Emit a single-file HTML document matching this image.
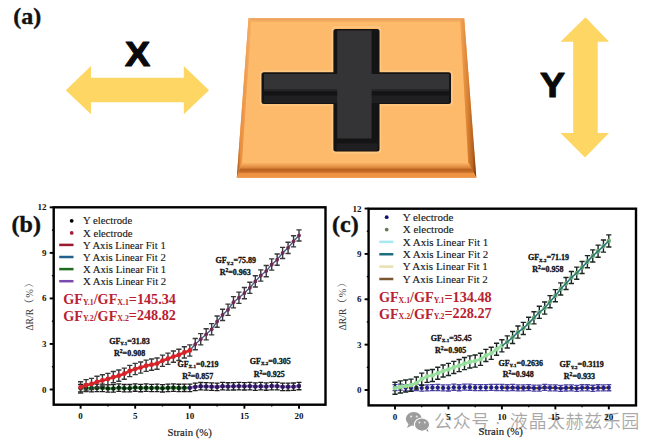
<!DOCTYPE html>
<html><head><meta charset="utf-8"><style>
html,body{margin:0;padding:0;background:#fff;}
body{width:660px;height:448px;overflow:hidden;position:relative;}
svg{position:absolute;left:0;top:0;}
</style></head><body>
<svg width="660" height="448" viewBox="0 0 660 448">
<rect width="660" height="448" fill="#fff"/>
<text x="13.3" y="23.6" font-family="'Liberation Serif','Times New Roman',serif" font-weight="bold" font-size="24" fill="#111" stroke="#111" stroke-width="0.4">(a)</text>
<polygon fill="#FDD663" points="65.8,90.2 91,66 91,77.8 183.8,77.8 183.8,66 209,90.2 183.8,114.2 183.8,102.2 91,102.2 91,114.2"/>
<text transform="translate(125,65.6) scale(1.09,1)" font-family="'Liberation Sans',Arial,sans-serif" font-weight="bold" font-size="34.5" fill="#0a0a0a" stroke="#0a0a0a" stroke-width="1.2" stroke-linejoin="round">X</text>
<polygon fill="#FDD663" points="585.5,17.3 609,41.8 597.7,41.8 597.7,132.9 609,132.9 585,157.4 560.5,132.9 573.2,132.9 573.2,41.8 560.5,41.8"/>
<text transform="translate(540,97.4) scale(1.05,1)" font-family="'Liberation Sans',Arial,sans-serif" font-weight="bold" font-size="35.8" fill="#0a0a0a" stroke="#0a0a0a" stroke-width="1.1" stroke-linejoin="round">Y</text>
<defs>
<linearGradient id="bot" x1="0" y1="0" x2="0" y2="1">
 <stop offset="0" stop-color="#FBB466"/>
 <stop offset="0.3" stop-color="#DF8A3E"/>
 <stop offset="0.45" stop-color="#B9621F"/>
 <stop offset="0.62" stop-color="#C86E28"/>
 <stop offset="0.72" stop-color="#EE9242"/>
 <stop offset="0.95" stop-color="#F09444"/>
 <stop offset="1" stop-color="#E08A40"/>
</linearGradient>
<linearGradient id="rside" x1="0" y1="0" x2="1" y2="0">
 <stop offset="0" stop-color="#F2A454"/>
 <stop offset="0.45" stop-color="#DC8436"/>
 <stop offset="0.8" stop-color="#B4601E"/>
 <stop offset="1" stop-color="#6A3410"/>
</linearGradient>
<linearGradient id="lside" x1="0" y1="0" x2="1" y2="0">
 <stop offset="0" stop-color="#9A5420"/>
 <stop offset="0.25" stop-color="#E88E40"/>
 <stop offset="1" stop-color="#F8B064"/>
</linearGradient>
</defs>
<polygon fill="#F6A858" points="248.5,18.4 464.2,18.4 476.3,177.5 236.8,177.5"/>
<polygon fill="#FDBA6A" points="251.3,19.8 460.2,19.8 468.3,163.5 241.8,163.5"/>
<polygon fill="#F4AC5E" points="250,18.4 463,18.4 462,22 251,22"/>
<polygon fill="#E6955A" points="248.5,18.4 464.2,18.4 464.3,19.5 248.4,19.5"/>
<polygon fill="url(#lside)" points="248.5,18.4 251.3,19.8 241.8,163.5 236.8,177.5"/>
<polygon fill="url(#rside)" points="464.2,18.4 476.3,177.5 468.3,163.5 460.2,20"/>
<polygon fill="url(#bot)" points="241.8,163 468.8,163 476.3,177.7 236.8,177.7"/>
<path d="M263.5,71.3 H332.4 V30 a3,3 0 0 1 3,-3 H377.5 a3,3 0 0 1 3,3 V71.3 H449 a3,3 0 0 1 3,3 V102 a3,3 0 0 1 -3,3 H380.5 V149.6 a3,3 0 0 1 -3,3 H335.4 a3,3 0 0 1 -3,-3 V105 H263.5 a3,3 0 0 1 -3,-3 V74.3 a3,3 0 0 1 3,-3 Z" fill="none" stroke="#FFC883" stroke-width="1.6"/>
<rect x="261.5" y="72.3" width="189.5" height="31.8" rx="2.5" fill="#141414"/>
<rect x="333.4" y="29" width="46.1" height="122.6" rx="2.5" fill="#141414"/>
<rect x="264" y="95.4" width="185" height="7.6" fill="#1f1f22"/>
<rect x="264" y="74" width="185" height="15.6" fill="#343436"/>
<rect x="264" y="89.6" width="185" height="1.6" fill="#262628"/>
<rect x="337.2" y="30.5" width="34.4" height="108" fill="#343436"/>
<rect x="336.5" y="143.3" width="41" height="7.5" fill="#1f1f22"/>
<text x="11.6" y="232" font-family="'Liberation Serif','Times New Roman',serif" font-weight="bold" font-size="24" fill="#111" stroke="#111" stroke-width="0.4">(b)</text>
<line x1="49.70" y1="389.50" x2="53.70" y2="389.50" stroke="#000" stroke-width="1.9"/>
<text x="46.50" y="392.50" text-anchor="end" font-family="'Liberation Serif','Times New Roman',serif" font-weight="bold" font-size="9" fill="#111">0</text>
<line x1="49.70" y1="343.96" x2="53.70" y2="343.96" stroke="#000" stroke-width="1.9"/>
<text x="46.50" y="346.96" text-anchor="end" font-family="'Liberation Serif','Times New Roman',serif" font-weight="bold" font-size="9" fill="#111">3</text>
<line x1="49.70" y1="298.42" x2="53.70" y2="298.42" stroke="#000" stroke-width="1.9"/>
<text x="46.50" y="301.42" text-anchor="end" font-family="'Liberation Serif','Times New Roman',serif" font-weight="bold" font-size="9" fill="#111">6</text>
<line x1="49.70" y1="252.88" x2="53.70" y2="252.88" stroke="#000" stroke-width="1.9"/>
<text x="46.50" y="255.88" text-anchor="end" font-family="'Liberation Serif','Times New Roman',serif" font-weight="bold" font-size="9" fill="#111">9</text>
<line x1="49.70" y1="207.34" x2="53.70" y2="207.34" stroke="#000" stroke-width="1.9"/>
<text x="46.50" y="210.34" text-anchor="end" font-family="'Liberation Serif','Times New Roman',serif" font-weight="bold" font-size="9" fill="#111">12</text>
<line x1="51.90" y1="366.73" x2="53.70" y2="366.73" stroke="#000" stroke-width="1.4"/>
<line x1="51.90" y1="321.19" x2="53.70" y2="321.19" stroke="#000" stroke-width="1.4"/>
<line x1="51.90" y1="275.65" x2="53.70" y2="275.65" stroke="#000" stroke-width="1.4"/>
<line x1="51.90" y1="230.11" x2="53.70" y2="230.11" stroke="#000" stroke-width="1.4"/>
<line x1="80.60" y1="404.70" x2="80.60" y2="408.70" stroke="#000" stroke-width="1.9"/>
<text x="80.60" y="419.10" text-anchor="middle" font-family="'Liberation Serif','Times New Roman',serif" font-weight="bold" font-size="9" fill="#111">0</text>
<line x1="135.20" y1="404.70" x2="135.20" y2="408.70" stroke="#000" stroke-width="1.9"/>
<text x="135.20" y="419.10" text-anchor="middle" font-family="'Liberation Serif','Times New Roman',serif" font-weight="bold" font-size="9" fill="#111">5</text>
<line x1="189.80" y1="404.70" x2="189.80" y2="408.70" stroke="#000" stroke-width="1.9"/>
<text x="189.80" y="419.10" text-anchor="middle" font-family="'Liberation Serif','Times New Roman',serif" font-weight="bold" font-size="9" fill="#111">10</text>
<line x1="244.40" y1="404.70" x2="244.40" y2="408.70" stroke="#000" stroke-width="1.9"/>
<text x="244.40" y="419.10" text-anchor="middle" font-family="'Liberation Serif','Times New Roman',serif" font-weight="bold" font-size="9" fill="#111">15</text>
<line x1="299.00" y1="404.70" x2="299.00" y2="408.70" stroke="#000" stroke-width="1.9"/>
<text x="299.00" y="419.10" text-anchor="middle" font-family="'Liberation Serif','Times New Roman',serif" font-weight="bold" font-size="9" fill="#111">20</text>
<line x1="107.90" y1="404.70" x2="107.90" y2="406.50" stroke="#000" stroke-width="1.4"/>
<line x1="162.50" y1="404.70" x2="162.50" y2="406.50" stroke="#000" stroke-width="1.4"/>
<line x1="217.10" y1="404.70" x2="217.10" y2="406.50" stroke="#000" stroke-width="1.4"/>
<line x1="271.70" y1="404.70" x2="271.70" y2="406.50" stroke="#000" stroke-width="1.4"/>
<rect x="53.70" y="207.30" width="271.80" height="197.40" fill="none" stroke="#000" stroke-width="2.4"/>
<text x="167.5" y="435.5" font-family="'Liberation Serif','Times New Roman',serif" font-size="10.7" fill="#1a1a1a" stroke="#1a1a1a" stroke-width="0.2">Strain (%)</text>
<text transform="translate(32.6,330.6) rotate(-90)" font-family="'Liberation Serif','Times New Roman',serif,'Noto Serif CJK SC',serif" font-size="9.6" fill="#3a3a3a">ΔR/R<tspan font-size="10.4" letter-spacing="0.9">（%）</tspan></text>
<polyline points="80.60,388.22 86.06,387.94 91.52,388.10 96.98,387.89 102.44,387.87 107.90,388.38 113.36,388.43 118.82,387.67 124.28,388.20 129.74,388.22 135.20,387.53 140.66,388.01 146.12,387.68 151.58,388.00 157.04,387.86 162.50,388.30 167.96,387.86 173.42,387.65 178.88,387.96 184.34,387.76 189.80,387.83" fill="none" stroke="#3E9A3E" stroke-width="2.6" stroke-linejoin="round"/>
<polyline points="189.80,387.83 195.26,386.86 200.72,386.23 206.18,386.38 211.64,386.65 217.10,386.89 222.56,386.13 228.02,386.49 233.48,386.26 238.94,386.12 244.40,386.27 249.86,386.08 255.32,386.56 260.78,386.19 266.24,386.51 271.70,386.07 277.16,386.12 282.62,386.83 288.08,386.80 293.54,386.72 299.00,386.04" fill="none" stroke="#A070D8" stroke-width="2.6" stroke-linejoin="round"/>
<path d="M80.60,384.50V391.94M78.10,384.50H83.10M78.10,391.94H83.10M86.06,384.22V391.66M83.56,384.22H88.56M83.56,391.66H88.56M91.52,384.38V391.82M89.02,384.38H94.02M89.02,391.82H94.02M96.98,384.17V391.61M94.48,384.17H99.48M94.48,391.61H99.48M102.44,384.15V391.59M99.94,384.15H104.94M99.94,391.59H104.94M107.90,384.66V392.10M105.40,384.66H110.40M105.40,392.10H110.40M113.36,384.71V392.14M110.86,384.71H115.86M110.86,392.14H115.86M118.82,383.96V391.39M116.32,383.96H121.32M116.32,391.39H121.32M124.28,384.48V391.92M121.78,384.48H126.78M121.78,391.92H126.78M129.74,384.50V391.94M127.24,384.50H132.24M127.24,391.94H132.24M135.20,383.81V391.25M132.70,383.81H137.70M132.70,391.25H137.70M140.66,384.29V391.73M138.16,384.29H143.16M138.16,391.73H143.16M146.12,383.96V391.39M143.62,383.96H148.62M143.62,391.39H148.62M151.58,384.28V391.72M149.08,384.28H154.08M149.08,391.72H154.08M157.04,384.14V391.57M154.54,384.14H159.54M154.54,391.57H159.54M162.50,384.58V392.02M160.00,384.58H165.00M160.00,392.02H165.00M167.96,384.14V391.58M165.46,384.14H170.46M165.46,391.58H170.46M173.42,383.93V391.37M170.92,383.93H175.92M170.92,391.37H175.92M178.88,384.24V391.68M176.38,384.24H181.38M176.38,391.68H181.38M184.34,384.04V391.48M181.84,384.04H186.84M181.84,391.48H186.84M189.80,384.11V391.54M187.30,384.11H192.30M187.30,391.54H192.30M195.26,383.14V390.58M192.76,383.14H197.76M192.76,390.58H197.76M200.72,382.51V389.95M198.22,382.51H203.22M198.22,389.95H203.22M206.18,382.66V390.10M203.68,382.66H208.68M203.68,390.10H208.68M211.64,382.93V390.36M209.14,382.93H214.14M209.14,390.36H214.14M217.10,383.17V390.61M214.60,383.17H219.60M214.60,390.61H219.60M222.56,382.41V389.85M220.06,382.41H225.06M220.06,389.85H225.06M228.02,382.77V390.21M225.52,382.77H230.52M225.52,390.21H230.52M233.48,382.55V389.98M230.98,382.55H235.98M230.98,389.98H235.98M238.94,382.40V389.84M236.44,382.40H241.44M236.44,389.84H241.44M244.40,382.55V389.99M241.90,382.55H246.90M241.90,389.99H246.90M249.86,382.36V389.80M247.36,382.36H252.36M247.36,389.80H252.36M255.32,382.84V390.28M252.82,382.84H257.82M252.82,390.28H257.82M260.78,382.47V389.91M258.28,382.47H263.28M258.28,389.91H263.28M266.24,382.80V390.23M263.74,382.80H268.74M263.74,390.23H268.74M271.70,382.35V389.79M269.20,382.35H274.20M269.20,389.79H274.20M277.16,382.40V389.84M274.66,382.40H279.66M274.66,389.84H279.66M282.62,383.11V390.55M280.12,383.11H285.12M280.12,390.55H285.12M288.08,383.08V390.51M285.58,383.08H290.58M285.58,390.51H290.58M293.54,383.00V390.44M291.04,383.00H296.04M291.04,390.44H296.04M299.00,382.32V389.76M296.50,382.32H301.50M296.50,389.76H301.50" stroke="#1e1e1e" stroke-width="1.3" fill="none"/>
<circle cx="80.60" cy="388.22" r="2.2" fill="#0a2a10"/>
<circle cx="86.06" cy="387.94" r="2.2" fill="#0a2a10"/>
<circle cx="91.52" cy="388.10" r="2.2" fill="#0a2a10"/>
<circle cx="96.98" cy="387.89" r="2.2" fill="#0a2a10"/>
<circle cx="102.44" cy="387.87" r="2.2" fill="#0a2a10"/>
<circle cx="107.90" cy="388.38" r="2.2" fill="#0a2a10"/>
<circle cx="113.36" cy="388.43" r="2.2" fill="#0a2a10"/>
<circle cx="118.82" cy="387.67" r="2.2" fill="#0a2a10"/>
<circle cx="124.28" cy="388.20" r="2.2" fill="#0a2a10"/>
<circle cx="129.74" cy="388.22" r="2.2" fill="#0a2a10"/>
<circle cx="135.20" cy="387.53" r="2.2" fill="#0a2a10"/>
<circle cx="140.66" cy="388.01" r="2.2" fill="#0a2a10"/>
<circle cx="146.12" cy="387.68" r="2.2" fill="#0a2a10"/>
<circle cx="151.58" cy="388.00" r="2.2" fill="#0a2a10"/>
<circle cx="157.04" cy="387.86" r="2.2" fill="#0a2a10"/>
<circle cx="162.50" cy="388.30" r="2.2" fill="#0a2a10"/>
<circle cx="167.96" cy="387.86" r="2.2" fill="#0a2a10"/>
<circle cx="173.42" cy="387.65" r="2.2" fill="#0a2a10"/>
<circle cx="178.88" cy="387.96" r="2.2" fill="#0a2a10"/>
<circle cx="184.34" cy="387.76" r="2.2" fill="#0a2a10"/>
<circle cx="189.80" cy="387.83" r="2.2" fill="#2a1a5a"/>
<circle cx="195.26" cy="386.86" r="2.2" fill="#2a1a5a"/>
<circle cx="200.72" cy="386.23" r="2.2" fill="#2a1a5a"/>
<circle cx="206.18" cy="386.38" r="2.2" fill="#2a1a5a"/>
<circle cx="211.64" cy="386.65" r="2.2" fill="#2a1a5a"/>
<circle cx="217.10" cy="386.89" r="2.2" fill="#2a1a5a"/>
<circle cx="222.56" cy="386.13" r="2.2" fill="#2a1a5a"/>
<circle cx="228.02" cy="386.49" r="2.2" fill="#2a1a5a"/>
<circle cx="233.48" cy="386.26" r="2.2" fill="#2a1a5a"/>
<circle cx="238.94" cy="386.12" r="2.2" fill="#2a1a5a"/>
<circle cx="244.40" cy="386.27" r="2.2" fill="#2a1a5a"/>
<circle cx="249.86" cy="386.08" r="2.2" fill="#2a1a5a"/>
<circle cx="255.32" cy="386.56" r="2.2" fill="#2a1a5a"/>
<circle cx="260.78" cy="386.19" r="2.2" fill="#2a1a5a"/>
<circle cx="266.24" cy="386.51" r="2.2" fill="#2a1a5a"/>
<circle cx="271.70" cy="386.07" r="2.2" fill="#2a1a5a"/>
<circle cx="277.16" cy="386.12" r="2.2" fill="#2a1a5a"/>
<circle cx="282.62" cy="386.83" r="2.2" fill="#2a1a5a"/>
<circle cx="288.08" cy="386.80" r="2.2" fill="#2a1a5a"/>
<circle cx="293.54" cy="386.72" r="2.2" fill="#2a1a5a"/>
<circle cx="299.00" cy="386.04" r="2.2" fill="#2a1a5a"/>
<polyline points="80.60,387.32 86.06,385.24 91.52,383.95 96.98,381.85 102.44,380.43 107.90,379.00 113.36,377.16 118.82,375.68 124.28,373.71 129.74,371.01 135.20,369.04 140.66,367.56 146.12,365.76 151.58,364.65 157.04,363.60 162.50,360.72 167.96,358.74 173.42,356.60 178.88,354.89 184.34,352.44 189.80,350.47" fill="none" stroke="#D42B2B" stroke-width="2.6" stroke-linejoin="round"/>
<polyline points="189.80,350.47 195.26,344.18 200.72,339.22 206.18,334.31 211.64,329.29 217.10,321.60 222.56,314.91 228.02,309.78 233.48,302.21 238.94,297.75 244.40,293.08 249.86,287.80 255.32,281.38 260.78,275.52 266.24,271.08 271.70,264.51 277.16,259.68 282.62,252.95 288.08,247.84 293.54,241.30 299.00,235.45" fill="none" stroke="#4A5A8A" stroke-width="1.4" stroke-linejoin="round"/>
<path d="M80.60,381.70V392.94M78.00,381.70H83.20M78.00,392.94H83.20M86.06,379.63V390.86M83.46,379.63H88.66M83.46,390.86H88.66M91.52,378.34V389.57M88.92,378.34H94.12M88.92,389.57H94.12M96.98,376.24V387.47M94.38,376.24H99.58M94.38,387.47H99.58M102.44,374.82V386.05M99.84,374.82H105.04M99.84,386.05H105.04M107.90,373.38V384.62M105.30,373.38H110.50M105.30,384.62H110.50M113.36,371.54V382.78M110.76,371.54H115.96M110.76,382.78H115.96M118.82,370.06V381.29M116.22,370.06H121.42M116.22,381.29H121.42M124.28,368.09V379.32M121.68,368.09H126.88M121.68,379.32H126.88M129.74,365.39V376.62M127.14,365.39H132.34M127.14,376.62H132.34M135.20,363.42V374.66M132.60,363.42H137.80M132.60,374.66H137.80M140.66,361.94V373.17M138.06,361.94H143.26M138.06,373.17H143.26M146.12,360.14V371.37M143.52,360.14H148.72M143.52,371.37H148.72M151.58,359.03V370.27M148.98,359.03H154.18M148.98,370.27H154.18M157.04,357.98V369.21M154.44,357.98H159.64M154.44,369.21H159.64M162.50,355.10V366.33M159.90,355.10H165.10M159.90,366.33H165.10M167.96,353.12V364.35M165.36,353.12H170.56M165.36,364.35H170.56M173.42,350.99V362.22M170.82,350.99H176.02M170.82,362.22H176.02M178.88,349.27V360.50M176.28,349.27H181.48M176.28,360.50H181.48M184.34,346.82V358.06M181.74,346.82H186.94M181.74,358.06H186.94M189.80,344.85V356.09M187.20,344.85H192.40M187.20,356.09H192.40M195.26,338.56V349.79M192.66,338.56H197.86M192.66,349.79H197.86M200.72,333.60V344.84M198.12,333.60H203.32M198.12,344.84H203.32M206.18,328.69V339.92M203.58,328.69H208.78M203.58,339.92H208.78M211.64,323.67V334.91M209.04,323.67H214.24M209.04,334.91H214.24M217.10,315.98V327.22M214.50,315.98H219.70M214.50,327.22H219.70M222.56,309.29V320.52M219.96,309.29H225.16M219.96,320.52H225.16M228.02,304.17V315.40M225.42,304.17H230.62M225.42,315.40H230.62M233.48,296.60V307.83M230.88,296.60H236.08M230.88,307.83H236.08M238.94,292.13V303.36M236.34,292.13H241.54M236.34,303.36H241.54M244.40,287.46V298.70M241.80,287.46H247.00M241.80,298.70H247.00M249.86,282.19V293.42M247.26,282.19H252.46M247.26,293.42H252.46M255.32,275.76V287.00M252.72,275.76H257.92M252.72,287.00H257.92M260.78,269.91V281.14M258.18,269.91H263.38M258.18,281.14H263.38M266.24,265.46V276.70M263.64,265.46H268.84M263.64,276.70H268.84M271.70,258.90V270.13M269.10,258.90H274.30M269.10,270.13H274.30M277.16,254.06V265.29M274.56,254.06H279.76M274.56,265.29H279.76M282.62,247.34V258.57M280.02,247.34H285.22M280.02,258.57H285.22M288.08,242.22V253.46M285.48,242.22H290.68M285.48,253.46H290.68M293.54,235.69V246.92M290.94,235.69H296.14M290.94,246.92H296.14M299.00,229.84V241.07M296.40,229.84H301.60M296.40,241.07H301.60" stroke="#383838" stroke-width="1.4" fill="none"/>
<circle cx="80.60" cy="387.32" r="2.4" fill="#D8222A"/>
<circle cx="86.06" cy="385.24" r="2.4" fill="#D8222A"/>
<circle cx="91.52" cy="383.95" r="2.4" fill="#D8222A"/>
<circle cx="96.98" cy="381.85" r="2.4" fill="#D8222A"/>
<circle cx="102.44" cy="380.43" r="2.4" fill="#D8222A"/>
<circle cx="107.90" cy="379.00" r="2.4" fill="#D8222A"/>
<circle cx="113.36" cy="377.16" r="2.4" fill="#D8222A"/>
<circle cx="118.82" cy="375.68" r="2.4" fill="#D8222A"/>
<circle cx="124.28" cy="373.71" r="2.4" fill="#D8222A"/>
<circle cx="129.74" cy="371.01" r="2.4" fill="#D8222A"/>
<circle cx="135.20" cy="369.04" r="2.4" fill="#D8222A"/>
<circle cx="140.66" cy="367.56" r="2.4" fill="#D8222A"/>
<circle cx="146.12" cy="365.76" r="2.4" fill="#D8222A"/>
<circle cx="151.58" cy="364.65" r="2.4" fill="#D8222A"/>
<circle cx="157.04" cy="363.60" r="2.4" fill="#D8222A"/>
<circle cx="162.50" cy="360.72" r="2.4" fill="#D8222A"/>
<circle cx="167.96" cy="358.74" r="2.4" fill="#D8222A"/>
<circle cx="173.42" cy="356.60" r="2.4" fill="#D8222A"/>
<circle cx="178.88" cy="354.89" r="2.4" fill="#D8222A"/>
<circle cx="184.34" cy="352.44" r="2.4" fill="#D8222A"/>
<circle cx="189.80" cy="350.47" r="2.4" fill="#D8222A"/>
<circle cx="195.26" cy="344.18" r="1.9" fill="#6E2A52"/>
<circle cx="200.72" cy="339.22" r="1.9" fill="#6E2A52"/>
<circle cx="206.18" cy="334.31" r="1.9" fill="#6E2A52"/>
<circle cx="211.64" cy="329.29" r="1.9" fill="#6E2A52"/>
<circle cx="217.10" cy="321.60" r="1.9" fill="#6E2A52"/>
<circle cx="222.56" cy="314.91" r="1.9" fill="#6E2A52"/>
<circle cx="228.02" cy="309.78" r="1.9" fill="#6E2A52"/>
<circle cx="233.48" cy="302.21" r="1.9" fill="#6E2A52"/>
<circle cx="238.94" cy="297.75" r="1.9" fill="#6E2A52"/>
<circle cx="244.40" cy="293.08" r="1.9" fill="#6E2A52"/>
<circle cx="249.86" cy="287.80" r="1.9" fill="#6E2A52"/>
<circle cx="255.32" cy="281.38" r="1.9" fill="#6E2A52"/>
<circle cx="260.78" cy="275.52" r="1.9" fill="#6E2A52"/>
<circle cx="266.24" cy="271.08" r="1.9" fill="#6E2A52"/>
<circle cx="271.70" cy="264.51" r="1.9" fill="#6E2A52"/>
<circle cx="277.16" cy="259.68" r="1.9" fill="#6E2A52"/>
<circle cx="282.62" cy="252.95" r="1.9" fill="#6E2A52"/>
<circle cx="288.08" cy="247.84" r="1.9" fill="#6E2A52"/>
<circle cx="293.54" cy="241.30" r="1.9" fill="#6E2A52"/>
<circle cx="299.00" cy="235.45" r="1.9" fill="#6E2A52"/>
<circle cx="71.7" cy="220.80" r="1.9" fill="#000"/>
<text x="83" y="224.40" font-family="'Liberation Serif','Times New Roman',serif" font-size="10.7" fill="#161616" stroke="#161616" stroke-width="0.12">Y electrode</text>
<circle cx="71.7" cy="232.90" r="1.9" fill="#A0203A"/>
<text x="83" y="236.50" font-family="'Liberation Serif','Times New Roman',serif" font-size="10.7" fill="#161616" stroke="#161616" stroke-width="0.12">X electrode</text>
<line x1="59.2" y1="244.90" x2="73.5" y2="244.90" stroke="#9A1A30" stroke-width="2.5"/>
<text x="83" y="248.60" font-family="'Liberation Serif','Times New Roman',serif" font-size="10.7" fill="#161616" stroke="#161616" stroke-width="0.12">Y Axis Linear Fit 1</text>
<line x1="59.2" y1="257.00" x2="73.5" y2="257.00" stroke="#20608A" stroke-width="2.5"/>
<text x="83" y="260.70" font-family="'Liberation Serif','Times New Roman',serif" font-size="10.7" fill="#161616" stroke="#161616" stroke-width="0.12">Y Axis Linear Fit 2</text>
<line x1="59.2" y1="269.10" x2="73.5" y2="269.10" stroke="#1E6A1E" stroke-width="2.5"/>
<text x="83" y="272.80" font-family="'Liberation Serif','Times New Roman',serif" font-size="10.7" fill="#161616" stroke="#161616" stroke-width="0.12">X Axis Linear Fit 1</text>
<line x1="59.2" y1="281.20" x2="73.5" y2="281.20" stroke="#7A4AB0" stroke-width="2.5"/>
<text x="83" y="284.90" font-family="'Liberation Serif','Times New Roman',serif" font-size="10.7" fill="#161616" stroke="#161616" stroke-width="0.12">X Axis Linear Fit 2</text>
<text x="63.2" y="304.3" font-family="'Liberation Serif','Times New Roman',serif" font-weight="bold" font-size="14.2" fill="#B82230">GF<tspan font-size="7.8" dy="0.6">Y.1</tspan><tspan dy="-0.6">/GF</tspan><tspan font-size="7.8" dy="0.6">X.1</tspan><tspan dy="-1">=145.34</tspan></text>
<text x="63.2" y="320.8" font-family="'Liberation Serif','Times New Roman',serif" font-weight="bold" font-size="14.2" fill="#B82230">GF<tspan font-size="7.8" dy="0.6">Y.2</tspan><tspan dy="-0.6">/GF</tspan><tspan font-size="7.8" dy="0.6">X.2</tspan><tspan dy="-1">=248.82</tspan></text>
<text x="109.2" y="343.6" font-family="'Liberation Serif','Times New Roman',serif" font-weight="bold" font-size="8" fill="#111" stroke="#111" stroke-width="0.3">GF<tspan font-size="5" dy="1.2">Y.1</tspan><tspan dy="-1.2">=31.83</tspan></text>
<text x="114.0" y="355.5" font-family="'Liberation Serif','Times New Roman',serif" font-weight="bold" font-size="8" fill="#111" stroke="#111" stroke-width="0.3">R<tspan font-size="5.6" dy="-2.9">2</tspan><tspan dy="2.9">=0.908</tspan></text>
<text x="215.5" y="263.4" font-family="'Liberation Serif','Times New Roman',serif" font-weight="bold" font-size="8" fill="#111" stroke="#111" stroke-width="0.3">GF<tspan font-size="5" dy="1.2">Y.2</tspan><tspan dy="-1.2">=75.89</tspan></text>
<text x="219.7" y="275.29999999999995" font-family="'Liberation Serif','Times New Roman',serif" font-weight="bold" font-size="8" fill="#111" stroke="#111" stroke-width="0.3">R<tspan font-size="5.6" dy="-2.9">2</tspan><tspan dy="2.9">=0.963</tspan></text>
<text x="177.5" y="366.7" font-family="'Liberation Serif','Times New Roman',serif" font-weight="bold" font-size="8" fill="#111" stroke="#111" stroke-width="0.3">GF<tspan font-size="5" dy="1.2">X.1</tspan><tspan dy="-1.2">=0.219</tspan></text>
<text x="182.2" y="378.59999999999997" font-family="'Liberation Serif','Times New Roman',serif" font-weight="bold" font-size="8" fill="#111" stroke="#111" stroke-width="0.3">R<tspan font-size="5.6" dy="-2.9">2</tspan><tspan dy="2.9">=0.857</tspan></text>
<text x="249.8" y="364.2" font-family="'Liberation Serif','Times New Roman',serif" font-weight="bold" font-size="8" fill="#111" stroke="#111" stroke-width="0.3">GF<tspan font-size="5" dy="1.2">X.2</tspan><tspan dy="-1.2">=0.305</tspan></text>
<text x="253.70000000000002" y="376.59999999999997" font-family="'Liberation Serif','Times New Roman',serif" font-weight="bold" font-size="8" fill="#111" stroke="#111" stroke-width="0.3">R<tspan font-size="5.6" dy="-2.9">2</tspan><tspan dy="2.9">=0.925</tspan></text>
<text x="332" y="232.4" font-family="'Liberation Serif','Times New Roman',serif" font-weight="bold" font-size="24" fill="#111" stroke="#111" stroke-width="0.4">(c)</text>
<line x1="364.60" y1="390.00" x2="368.60" y2="390.00" stroke="#000" stroke-width="1.9"/>
<text x="361.40" y="393.00" text-anchor="end" font-family="'Liberation Serif','Times New Roman',serif" font-weight="bold" font-size="9" fill="#111">0</text>
<line x1="364.60" y1="344.64" x2="368.60" y2="344.64" stroke="#000" stroke-width="1.9"/>
<text x="361.40" y="347.64" text-anchor="end" font-family="'Liberation Serif','Times New Roman',serif" font-weight="bold" font-size="9" fill="#111">3</text>
<line x1="364.60" y1="299.28" x2="368.60" y2="299.28" stroke="#000" stroke-width="1.9"/>
<text x="361.40" y="302.28" text-anchor="end" font-family="'Liberation Serif','Times New Roman',serif" font-weight="bold" font-size="9" fill="#111">6</text>
<line x1="364.60" y1="253.92" x2="368.60" y2="253.92" stroke="#000" stroke-width="1.9"/>
<text x="361.40" y="256.92" text-anchor="end" font-family="'Liberation Serif','Times New Roman',serif" font-weight="bold" font-size="9" fill="#111">9</text>
<line x1="364.60" y1="208.56" x2="368.60" y2="208.56" stroke="#000" stroke-width="1.9"/>
<text x="361.40" y="211.56" text-anchor="end" font-family="'Liberation Serif','Times New Roman',serif" font-weight="bold" font-size="9" fill="#111">12</text>
<line x1="366.80" y1="367.32" x2="368.60" y2="367.32" stroke="#000" stroke-width="1.4"/>
<line x1="366.80" y1="321.96" x2="368.60" y2="321.96" stroke="#000" stroke-width="1.4"/>
<line x1="366.80" y1="276.60" x2="368.60" y2="276.60" stroke="#000" stroke-width="1.4"/>
<line x1="366.80" y1="231.24" x2="368.60" y2="231.24" stroke="#000" stroke-width="1.4"/>
<line x1="395.00" y1="405.40" x2="395.00" y2="409.40" stroke="#000" stroke-width="1.9"/>
<text x="395.00" y="419.80" text-anchor="middle" font-family="'Liberation Serif','Times New Roman',serif" font-weight="bold" font-size="9" fill="#111">0</text>
<line x1="448.45" y1="405.40" x2="448.45" y2="409.40" stroke="#000" stroke-width="1.9"/>
<text x="448.45" y="419.80" text-anchor="middle" font-family="'Liberation Serif','Times New Roman',serif" font-weight="bold" font-size="9" fill="#111">5</text>
<line x1="501.90" y1="405.40" x2="501.90" y2="409.40" stroke="#000" stroke-width="1.9"/>
<text x="501.90" y="419.80" text-anchor="middle" font-family="'Liberation Serif','Times New Roman',serif" font-weight="bold" font-size="9" fill="#111">10</text>
<line x1="555.35" y1="405.40" x2="555.35" y2="409.40" stroke="#000" stroke-width="1.9"/>
<text x="555.35" y="419.80" text-anchor="middle" font-family="'Liberation Serif','Times New Roman',serif" font-weight="bold" font-size="9" fill="#111">15</text>
<line x1="608.80" y1="405.40" x2="608.80" y2="409.40" stroke="#000" stroke-width="1.9"/>
<text x="608.80" y="419.80" text-anchor="middle" font-family="'Liberation Serif','Times New Roman',serif" font-weight="bold" font-size="9" fill="#111">20</text>
<line x1="421.73" y1="405.40" x2="421.73" y2="407.20" stroke="#000" stroke-width="1.4"/>
<line x1="475.18" y1="405.40" x2="475.18" y2="407.20" stroke="#000" stroke-width="1.4"/>
<line x1="528.62" y1="405.40" x2="528.62" y2="407.20" stroke="#000" stroke-width="1.4"/>
<line x1="582.08" y1="405.40" x2="582.08" y2="407.20" stroke="#000" stroke-width="1.4"/>
<rect x="368.60" y="208.70" width="267.40" height="196.70" fill="none" stroke="#000" stroke-width="2.4"/>
<text x="478.6" y="434.9" font-family="'Liberation Serif','Times New Roman',serif" font-size="10.7" fill="#1a1a1a" stroke="#1a1a1a" stroke-width="0.2">Strain (%)</text>
<text transform="translate(346.4,330.3) rotate(-90)" font-family="'Liberation Serif','Times New Roman',serif,'Noto Serif CJK SC',serif" font-size="9.6" fill="#3a3a3a">ΔR/R<tspan font-size="10.4" letter-spacing="0.9">（%）</tspan></text>
<polyline points="395.00,387.58 400.35,387.13 405.69,387.75 411.04,387.96 416.38,387.49 421.73,388.01 427.07,387.86 432.42,387.66 437.76,387.48 443.11,387.89 448.45,388.00 453.80,387.25 459.14,387.75 464.49,387.16 469.83,387.22 475.18,387.69 480.52,387.62 485.87,387.56 491.21,387.45 496.56,387.49 501.90,387.53" fill="none" stroke="#E8DFA8" stroke-width="2.2" stroke-linejoin="round"/>
<polyline points="501.90,387.53 507.25,387.77 512.59,387.48 517.93,387.88 523.28,387.95 528.62,387.68 533.97,388.12 539.32,388.06 544.66,387.45 550.00,387.86 555.35,387.84 560.69,388.33 566.04,387.96 571.38,387.81 576.73,388.32 582.08,387.78 587.42,387.76 592.76,388.28 598.11,387.77 603.45,387.91 608.80,387.72" fill="none" stroke="#7A5530" stroke-width="2.2" stroke-linejoin="round"/>
<path d="M395.00,384.55V390.60M392.50,384.55H397.50M392.50,390.60H397.50M400.35,384.10V390.15M397.85,384.10H402.85M397.85,390.15H402.85M405.69,384.73V390.78M403.19,384.73H408.19M403.19,390.78H408.19M411.04,384.94V390.99M408.54,384.94H413.54M408.54,390.99H413.54M416.38,384.47V390.51M413.88,384.47H418.88M413.88,390.51H418.88M421.73,384.98V391.03M419.23,384.98H424.23M419.23,391.03H424.23M427.07,384.83V390.88M424.57,384.83H429.57M424.57,390.88H429.57M432.42,384.64V390.69M429.92,384.64H434.92M429.92,390.69H434.92M437.76,384.46V390.50M435.26,384.46H440.26M435.26,390.50H440.26M443.11,384.87V390.92M440.61,384.87H445.61M440.61,390.92H445.61M448.45,384.97V391.02M445.95,384.97H450.95M445.95,391.02H450.95M453.80,384.22V390.27M451.30,384.22H456.30M451.30,390.27H456.30M459.14,384.73V390.77M456.64,384.73H461.64M456.64,390.77H461.64M464.49,384.14V390.19M461.99,384.14H466.99M461.99,390.19H466.99M469.83,384.20V390.24M467.33,384.20H472.33M467.33,390.24H472.33M475.18,384.67V390.72M472.68,384.67H477.68M472.68,390.72H477.68M480.52,384.59V390.64M478.02,384.59H483.02M478.02,390.64H483.02M485.87,384.54V390.59M483.37,384.54H488.37M483.37,390.59H488.37M491.21,384.43V390.47M488.71,384.43H493.71M488.71,390.47H493.71M496.56,384.47V390.52M494.06,384.47H499.06M494.06,390.52H499.06M501.90,384.50V390.55M499.40,384.50H504.40M499.40,390.55H504.40M507.25,384.75V390.80M504.75,384.75H509.75M504.75,390.80H509.75M512.59,384.46V390.51M510.09,384.46H515.09M510.09,390.51H515.09M517.93,384.85V390.90M515.43,384.85H520.43M515.43,390.90H520.43M523.28,384.92V390.97M520.78,384.92H525.78M520.78,390.97H525.78M528.62,384.66V390.71M526.12,384.66H531.12M526.12,390.71H531.12M533.97,385.10V391.15M531.47,385.10H536.47M531.47,391.15H536.47M539.32,385.04V391.09M536.82,385.04H541.82M536.82,391.09H541.82M544.66,384.43V390.47M542.16,384.43H547.16M542.16,390.47H547.16M550.00,384.84V390.89M547.50,384.84H552.50M547.50,390.89H552.50M555.35,384.82V390.86M552.85,384.82H557.85M552.85,390.86H557.85M560.69,385.30V391.35M558.19,385.30H563.19M558.19,391.35H563.19M566.04,384.94V390.98M563.54,384.94H568.54M563.54,390.98H568.54M571.38,384.79V390.83M568.88,384.79H573.88M568.88,390.83H573.88M576.73,385.29V391.34M574.23,385.29H579.23M574.23,391.34H579.23M582.08,384.75V390.80M579.58,384.75H584.58M579.58,390.80H584.58M587.42,384.74V390.79M584.92,384.74H589.92M584.92,390.79H589.92M592.76,385.26V391.31M590.26,385.26H595.26M590.26,391.31H595.26M598.11,384.74V390.79M595.61,384.74H600.61M595.61,390.79H600.61M603.45,384.89V390.94M600.95,384.89H605.95M600.95,390.94H605.95M608.80,384.70V390.74M606.30,384.70H611.30M606.30,390.74H611.30" stroke="#4a40a0" stroke-width="1.3" fill="none"/>
<circle cx="395.00" cy="387.58" r="2.1" fill="#20208a"/>
<circle cx="400.35" cy="387.13" r="2.1" fill="#20208a"/>
<circle cx="405.69" cy="387.75" r="2.1" fill="#20208a"/>
<circle cx="411.04" cy="387.96" r="2.1" fill="#20208a"/>
<circle cx="416.38" cy="387.49" r="2.1" fill="#20208a"/>
<circle cx="421.73" cy="388.01" r="2.1" fill="#20208a"/>
<circle cx="427.07" cy="387.86" r="2.1" fill="#20208a"/>
<circle cx="432.42" cy="387.66" r="2.1" fill="#20208a"/>
<circle cx="437.76" cy="387.48" r="2.1" fill="#20208a"/>
<circle cx="443.11" cy="387.89" r="2.1" fill="#20208a"/>
<circle cx="448.45" cy="388.00" r="2.1" fill="#20208a"/>
<circle cx="453.80" cy="387.25" r="2.1" fill="#20208a"/>
<circle cx="459.14" cy="387.75" r="2.1" fill="#20208a"/>
<circle cx="464.49" cy="387.16" r="2.1" fill="#20208a"/>
<circle cx="469.83" cy="387.22" r="2.1" fill="#20208a"/>
<circle cx="475.18" cy="387.69" r="2.1" fill="#20208a"/>
<circle cx="480.52" cy="387.62" r="2.1" fill="#20208a"/>
<circle cx="485.87" cy="387.56" r="2.1" fill="#20208a"/>
<circle cx="491.21" cy="387.45" r="2.1" fill="#20208a"/>
<circle cx="496.56" cy="387.49" r="2.1" fill="#20208a"/>
<circle cx="501.90" cy="387.53" r="2.1" fill="#20208a"/>
<circle cx="507.25" cy="387.77" r="2.1" fill="#20208a"/>
<circle cx="512.59" cy="387.48" r="2.1" fill="#20208a"/>
<circle cx="517.93" cy="387.88" r="2.1" fill="#20208a"/>
<circle cx="523.28" cy="387.95" r="2.1" fill="#20208a"/>
<circle cx="528.62" cy="387.68" r="2.1" fill="#20208a"/>
<circle cx="533.97" cy="388.12" r="2.1" fill="#20208a"/>
<circle cx="539.32" cy="388.06" r="2.1" fill="#20208a"/>
<circle cx="544.66" cy="387.45" r="2.1" fill="#20208a"/>
<circle cx="550.00" cy="387.86" r="2.1" fill="#20208a"/>
<circle cx="555.35" cy="387.84" r="2.1" fill="#20208a"/>
<circle cx="560.69" cy="388.33" r="2.1" fill="#20208a"/>
<circle cx="566.04" cy="387.96" r="2.1" fill="#20208a"/>
<circle cx="571.38" cy="387.81" r="2.1" fill="#20208a"/>
<circle cx="576.73" cy="388.32" r="2.1" fill="#20208a"/>
<circle cx="582.08" cy="387.78" r="2.1" fill="#20208a"/>
<circle cx="587.42" cy="387.76" r="2.1" fill="#20208a"/>
<circle cx="592.76" cy="388.28" r="2.1" fill="#20208a"/>
<circle cx="598.11" cy="387.77" r="2.1" fill="#20208a"/>
<circle cx="603.45" cy="387.91" r="2.1" fill="#20208a"/>
<circle cx="608.80" cy="387.72" r="2.1" fill="#20208a"/>
<path d="M395.00,382.21V394.31M392.40,382.21H397.60M392.40,394.31H397.60M400.35,380.84V392.94M397.75,380.84H402.95M397.75,392.94H402.95M405.69,379.96V392.06M403.09,379.96H408.29M403.09,392.06H408.29M411.04,379.08V391.18M408.44,379.08H413.64M408.44,391.18H413.64M416.38,377.06V389.15M413.78,377.06H418.98M413.78,389.15H418.98M421.73,373.10V385.20M419.12,373.10H424.33M419.12,385.20H424.33M427.07,370.30V382.39M424.47,370.30H429.67M424.47,382.39H429.67M432.42,369.44V381.53M429.81,369.44H435.02M429.81,381.53H435.02M437.76,367.19V379.28M435.16,367.19H440.36M435.16,379.28H440.36M443.11,364.97V377.07M440.50,364.97H445.71M440.50,377.07H445.71M448.45,363.38V375.48M445.85,363.38H451.05M445.85,375.48H451.05M453.80,361.36V373.45M451.19,361.36H456.40M451.19,373.45H456.40M459.14,359.53V371.63M456.54,359.53H461.74M456.54,371.63H461.74M464.49,357.54V369.64M461.88,357.54H467.09M461.88,369.64H467.09M469.83,355.84V367.93M467.23,355.84H472.43M467.23,367.93H472.43M475.18,355.02V367.12M472.57,355.02H477.78M472.57,367.12H477.78M480.52,353.25V365.34M477.92,353.25H483.12M477.92,365.34H483.12M485.87,349.39V361.49M483.26,349.39H488.47M483.26,361.49H488.47M491.21,347.26V359.36M488.61,347.26H493.81M488.61,359.36H493.81M496.56,343.21V355.31M493.95,343.21H499.16M493.95,355.31H499.16M501.90,339.75V351.84M499.30,339.75H504.50M499.30,351.84H504.50M507.25,335.86V347.95M504.64,335.86H509.85M504.64,347.95H509.85M512.59,331.45V343.55M509.99,331.45H515.19M509.99,343.55H515.19M517.93,326.04V338.13M515.33,326.04H520.53M515.33,338.13H520.53M523.28,322.36V334.45M520.68,322.36H525.88M520.68,334.45H525.88M528.62,317.29V329.39M526.02,317.29H531.23M526.02,329.39H531.23M533.97,311.78V323.87M531.37,311.78H536.57M531.37,323.87H536.57M539.32,306.24V318.33M536.72,306.24H541.92M536.72,318.33H541.92M544.66,302.00V314.09M542.06,302.00H547.26M542.06,314.09H547.26M550.00,295.66V307.75M547.40,295.66H552.61M547.40,307.75H552.61M555.35,289.63V301.72M552.75,289.63H557.95M552.75,301.72H557.95M560.69,282.86V294.96M558.09,282.86H563.29M558.09,294.96H563.29M566.04,277.45V289.55M563.44,277.45H568.64M563.44,289.55H568.64M571.38,271.43V283.53M568.78,271.43H573.99M568.78,283.53H573.99M576.73,267.08V279.18M574.13,267.08H579.33M574.13,279.18H579.33M582.08,261.44V273.54M579.48,261.44H584.68M579.48,273.54H584.68M587.42,255.58V267.68M584.82,255.58H590.02M584.82,267.68H590.02M592.76,249.84V261.94M590.16,249.84H595.37M590.16,261.94H595.37M598.11,245.11V257.21M595.51,245.11H600.71M595.51,257.21H600.71M603.45,240.07V252.16M600.85,240.07H606.05M600.85,252.16H606.05M608.80,234.84V246.93M606.20,234.84H611.40M606.20,246.93H611.40" stroke="#1a2622" stroke-width="1.4" fill="none"/>
<circle cx="395.00" cy="388.26" r="2.3" fill="#8CD88C"/>
<circle cx="400.35" cy="386.89" r="2.3" fill="#8CD88C"/>
<circle cx="405.69" cy="386.01" r="2.3" fill="#8CD88C"/>
<circle cx="411.04" cy="385.13" r="2.3" fill="#8CD88C"/>
<circle cx="416.38" cy="383.10" r="2.3" fill="#8CD88C"/>
<circle cx="421.73" cy="379.15" r="2.3" fill="#8CD88C"/>
<circle cx="427.07" cy="376.34" r="2.3" fill="#8CD88C"/>
<circle cx="432.42" cy="375.49" r="2.3" fill="#8CD88C"/>
<circle cx="437.76" cy="373.23" r="2.3" fill="#8CD88C"/>
<circle cx="443.11" cy="371.02" r="2.3" fill="#8CD88C"/>
<circle cx="448.45" cy="369.43" r="2.3" fill="#8CD88C"/>
<circle cx="453.80" cy="367.41" r="2.3" fill="#8CD88C"/>
<circle cx="459.14" cy="365.58" r="2.3" fill="#8CD88C"/>
<circle cx="464.49" cy="363.59" r="2.3" fill="#8CD88C"/>
<circle cx="469.83" cy="361.88" r="2.3" fill="#8CD88C"/>
<circle cx="475.18" cy="361.07" r="2.3" fill="#8CD88C"/>
<circle cx="480.52" cy="359.29" r="2.3" fill="#8CD88C"/>
<circle cx="485.87" cy="355.44" r="2.3" fill="#8CD88C"/>
<circle cx="491.21" cy="353.31" r="2.3" fill="#8CD88C"/>
<circle cx="496.56" cy="349.26" r="2.3" fill="#8CD88C"/>
<circle cx="501.90" cy="345.80" r="2.3" fill="#8CD88C"/>
<circle cx="507.25" cy="341.90" r="2.3" fill="#7AB070"/>
<circle cx="512.59" cy="337.50" r="2.3" fill="#7AB070"/>
<circle cx="517.93" cy="332.08" r="2.3" fill="#7AB070"/>
<circle cx="523.28" cy="328.40" r="2.3" fill="#7AB070"/>
<circle cx="528.62" cy="323.34" r="2.3" fill="#7AB070"/>
<circle cx="533.97" cy="317.82" r="2.3" fill="#7AB070"/>
<circle cx="539.32" cy="312.29" r="2.3" fill="#7AB070"/>
<circle cx="544.66" cy="308.05" r="2.3" fill="#7AB070"/>
<circle cx="550.00" cy="301.70" r="2.3" fill="#7AB070"/>
<circle cx="555.35" cy="295.68" r="2.3" fill="#7AB070"/>
<circle cx="560.69" cy="288.91" r="2.3" fill="#7AB070"/>
<circle cx="566.04" cy="283.50" r="2.3" fill="#7AB070"/>
<circle cx="571.38" cy="277.48" r="2.3" fill="#7AB070"/>
<circle cx="576.73" cy="273.13" r="2.3" fill="#7AB070"/>
<circle cx="582.08" cy="267.49" r="2.3" fill="#7AB070"/>
<circle cx="587.42" cy="261.63" r="2.3" fill="#7AB070"/>
<circle cx="592.76" cy="255.89" r="2.3" fill="#7AB070"/>
<circle cx="598.11" cy="251.16" r="2.3" fill="#7AB070"/>
<circle cx="603.45" cy="246.11" r="2.3" fill="#7AB070"/>
<circle cx="608.80" cy="240.89" r="2.3" fill="#7AB070"/>
<polyline points="395.00,388.26 400.35,386.89 405.69,386.01 411.04,385.13 416.38,383.10 421.73,379.15 427.07,376.34 432.42,375.49 437.76,373.23 443.11,371.02 448.45,369.43 453.80,367.41 459.14,365.58 464.49,363.59 469.83,361.88 475.18,361.07 480.52,359.29 485.87,355.44 491.21,353.31 496.56,349.26 501.90,345.80" fill="none" stroke="#98E0A0" stroke-width="2.4" stroke-linejoin="round"/>
<polyline points="501.90,345.80 507.25,341.90 512.59,337.50 517.93,332.08 523.28,328.40 528.62,323.34 533.97,317.82 539.32,312.29 544.66,308.05 550.00,301.70 555.35,295.68 560.69,288.91 566.04,283.50 571.38,277.48 576.73,273.13 582.08,267.49 587.42,261.63 592.76,255.89 598.11,251.16 603.45,246.11 608.80,240.89" fill="none" stroke="#2A7A7A" stroke-width="1.6" stroke-linejoin="round"/>
<circle cx="386.7" cy="217.20" r="1.9" fill="#101070"/>
<text x="402.7" y="220.80" font-family="'Liberation Serif','Times New Roman',serif" font-size="11" fill="#161616" stroke="#161616" stroke-width="0.12">Y electrode</text>
<circle cx="386.7" cy="229.58" r="1.9" fill="#6A7A50"/>
<text x="402.7" y="233.18" font-family="'Liberation Serif','Times New Roman',serif" font-size="11" fill="#161616" stroke="#161616" stroke-width="0.12">X electrode</text>
<line x1="379.3" y1="241.86" x2="393.3" y2="241.86" stroke="#A8E8F0" stroke-width="2.5"/>
<text x="402.7" y="245.56" font-family="'Liberation Serif','Times New Roman',serif" font-size="11" fill="#161616" stroke="#161616" stroke-width="0.12">X Axis Linear Fit 1</text>
<line x1="379.3" y1="254.24" x2="393.3" y2="254.24" stroke="#1E6E80" stroke-width="2.5"/>
<text x="402.7" y="257.94" font-family="'Liberation Serif','Times New Roman',serif" font-size="11" fill="#161616" stroke="#161616" stroke-width="0.12">X Axis Linear Fit 2</text>
<line x1="379.3" y1="266.62" x2="393.3" y2="266.62" stroke="#E8E0B0" stroke-width="2.5"/>
<text x="402.7" y="270.32" font-family="'Liberation Serif','Times New Roman',serif" font-size="11" fill="#161616" stroke="#161616" stroke-width="0.12">Y Axis Linear Fit 1</text>
<line x1="379.3" y1="279.00" x2="393.3" y2="279.00" stroke="#7A5530" stroke-width="2.5"/>
<text x="402.7" y="282.70" font-family="'Liberation Serif','Times New Roman',serif" font-size="11" fill="#161616" stroke="#161616" stroke-width="0.12">Y Axis Linear Fit 2</text>
<text x="378.9" y="302.0" font-family="'Liberation Serif','Times New Roman',serif" font-weight="bold" font-size="14.2" fill="#B82230">GF<tspan font-size="7.8" dy="0.6">X.1</tspan><tspan dy="-0.6">/GF</tspan><tspan font-size="7.8" dy="0.6">Y.1</tspan><tspan dy="-1">=134.48</tspan></text>
<text x="378.9" y="318.7" font-family="'Liberation Serif','Times New Roman',serif" font-weight="bold" font-size="14.2" fill="#B82230">GF<tspan font-size="7.8" dy="0.6">X.2</tspan><tspan dy="-0.6">/GF</tspan><tspan font-size="7.8" dy="0.6">Y.2</tspan><tspan dy="-1">=228.27</tspan></text>
<text x="430.7" y="340.7" font-family="'Liberation Serif','Times New Roman',serif" font-weight="bold" font-size="8" fill="#111" stroke="#111" stroke-width="0.3">GF<tspan font-size="5" dy="1.2">X.1</tspan><tspan dy="-1.2">=35.45</tspan></text>
<text x="435.0" y="352.5" font-family="'Liberation Serif','Times New Roman',serif" font-weight="bold" font-size="8" fill="#111" stroke="#111" stroke-width="0.3">R<tspan font-size="5.6" dy="-2.9">2</tspan><tspan dy="2.9">=0.905</tspan></text>
<text x="528" y="260.3" font-family="'Liberation Serif','Times New Roman',serif" font-weight="bold" font-size="8" fill="#111" stroke="#111" stroke-width="0.3">GF<tspan font-size="5" dy="1.2">X.2</tspan><tspan dy="-1.2">=71.19</tspan></text>
<text x="532.3" y="271.7" font-family="'Liberation Serif','Times New Roman',serif" font-weight="bold" font-size="8" fill="#111" stroke="#111" stroke-width="0.3">R<tspan font-size="5.6" dy="-2.9">2</tspan><tspan dy="2.9">=0.958</tspan></text>
<text x="498.5" y="365.6" font-family="'Liberation Serif','Times New Roman',serif" font-weight="bold" font-size="8" fill="#111" stroke="#111" stroke-width="0.3">GF<tspan font-size="5" dy="1.2">Y.1</tspan><tspan dy="-1.2">=0.2636</tspan></text>
<text x="502.7" y="377.3" font-family="'Liberation Serif','Times New Roman',serif" font-weight="bold" font-size="8" fill="#111" stroke="#111" stroke-width="0.3">R<tspan font-size="5.6" dy="-2.9">2</tspan><tspan dy="2.9">=0.948</tspan></text>
<text x="559.6" y="367.3" font-family="'Liberation Serif','Times New Roman',serif" font-weight="bold" font-size="8" fill="#111" stroke="#111" stroke-width="0.3">GF<tspan font-size="5" dy="1.2">Y.2</tspan><tspan dy="-1.2">=0.3119</tspan></text>
<text x="563.8000000000001" y="378.8" font-family="'Liberation Serif','Times New Roman',serif" font-weight="bold" font-size="8" fill="#111" stroke="#111" stroke-width="0.3">R<tspan font-size="5.6" dy="-2.9">2</tspan><tspan dy="2.9">=0.933</tspan></text>
<g>
<ellipse cx="413.8" cy="418.8" rx="8" ry="6.9" fill="#9c9c9c"/>
<path d="M408.5,424 L407,428 L412,425.3 Z" fill="#9c9c9c"/>
<ellipse cx="422" cy="424.6" rx="7.6" ry="6.6" fill="#9c9c9c" stroke="#fff" stroke-width="1.1"/>
<path d="M426,430 L428.5,432.5 L427.8,429 Z" fill="#9c9c9c"/>
<circle cx="411.1" cy="416.5" r="1.1" fill="#e8e8e8"/>
<circle cx="416.8" cy="416.5" r="1.1" fill="#e8e8e8"/>
<circle cx="419.4" cy="422.6" r="1" fill="#e8e8e8"/>
<circle cx="424.8" cy="422.6" r="1" fill="#e8e8e8"/>
</g>
<text x="434.1" y="427.5" font-family="'Liberation Sans','Noto Sans CJK SC','WenQuanYi Zen Hei',sans-serif" font-size="18.1" letter-spacing="0.5" fill="#000" fill-opacity="0.34">公众号</text>
<text x="494.8" y="427.5" font-family="'Liberation Sans','Noto Sans CJK SC','WenQuanYi Zen Hei',sans-serif" font-size="18.1" letter-spacing="0.5" fill="#000" fill-opacity="0.34">·</text>
<text x="509.8" y="427.5" font-family="'Liberation Sans','Noto Sans CJK SC','WenQuanYi Zen Hei',sans-serif" font-size="18.1" letter-spacing="0.5" fill="#000" fill-opacity="0.34">液晶太赫兹乐园</text>
</svg>
</body></html>
